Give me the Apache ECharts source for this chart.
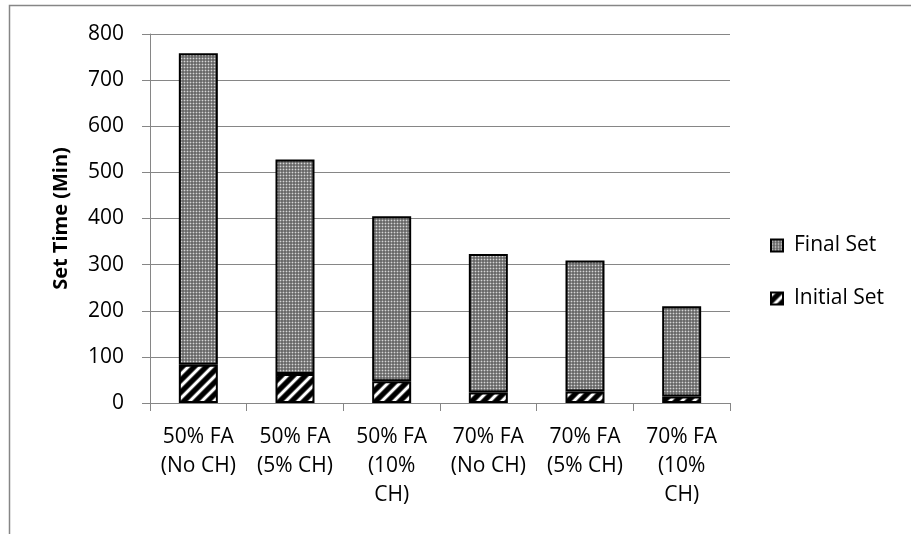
<!DOCTYPE html>
<html>
<head>
<meta charset="utf-8">
<script src="https://cdn.jsdelivr.net/npm/echarts@6/dist/echarts.min.js"></script>
<style>
  html, body { margin: 0; padding: 0; background: #fff; }
  #chart { width: 911px; height: 534px; }
</style>
</head>
<body>
<div id="chart"></div>
<script>
// Mix designations (category axis)
const categories = [
  '50% FA\n(No CH)',
  '50% FA\n(5% CH)',
  '50% FA\n(10%\nCH)',
  '70% FA\n(No CH)',
  '70% FA\n(5% CH)',
  '70% FA\n(10%\nCH)'
];
// Initial set time (min), bottom segment
const initialSet = [83, 63, 47, 23, 25, 14];
// Remaining time to final set (min), stacked above initial set
const finalSet = [675, 465, 358, 300, 284, 196];
// Value axis
const yMin = 0;
const yMax = 800;
const yStep = 100;

// Fine dotted grey fill for the final-set segments
function makeDotPattern() {
  const c = document.createElement('canvas');
  c.width = 3; c.height = 3;
  const g = c.getContext('2d');
  const shades = [
    ['#6a6a6a', '#8a8a8a', '#6a6a6a'],
    ['#8a8a8a', '#d6d6d6', '#8a8a8a'],
    ['#6a6a6a', '#8a8a8a', '#6a6a6a']
  ];
  for (let y = 0; y < 3; y++) {
    for (let x = 0; x < 3; x++) {
      g.fillStyle = shades[y][x];
      g.fillRect(x, y, 1, 1);
    }
  }
  return c;
}

// Wide black/white diagonal stripes for the initial-set segments
function makeStripePattern() {
  const n = 12;
  const c = document.createElement('canvas');
  c.width = n; c.height = n;
  const g = c.getContext('2d');
  const img = g.createImageData(n, n);
  for (let y = 0; y < n; y++) {
    for (let x = 0; x < n; x++) {
      const p = ((x + y) % n + n) % n;
      let d = Math.abs(p - 2);
      d = Math.min(d, n - d);
      const v = d <= 1 ? 255 : d <= 2 ? 150 : d <= 3 ? 40 : 0;
      const i = (y * n + x) * 4;
      img.data[i] = v; img.data[i + 1] = v; img.data[i + 2] = v; img.data[i + 3] = 255;
    }
  }
  g.putImageData(img, 0, 0);
  return c;
}

const dotFill = { image: makeDotPattern(), repeat: 'repeat' };
const stripeFill = { image: makeStripePattern(), repeat: 'repeat' };

const fontFamily = '"Open Sans", "Noto Sans", sans-serif';
const axisGrey = '#868686';
const fontSize = 21;

const chart = echarts.init(document.getElementById('chart'), null, { renderer: 'canvas' });
chart.setOption({
  backgroundColor: '#ffffff',
  animation: false,
  graphic: [{
    type: 'rect',
    left: 7, top: 3,
    shape: { x: 0.5, y: 0.5, width: 1200, height: 1200 },
    style: { fill: 'none', stroke: axisGrey, lineWidth: 1.5 },
    silent: true
  }],
  grid: { left: 150, right: 181, top: 34, bottom: 131, containLabel: false },
  legend: {
    data: ['Final Set', 'Initial Set'],
    orient: 'vertical',
    left: 765,
    top: 230,
    itemWidth: 12,
    itemHeight: 12,
    itemGap: 32,
    textStyle: { fontFamily: fontFamily, fontSize: fontSize, color: '#000', padding: [0, 0, 0, 6] },
    icon: 'rect'
  },
  xAxis: {
    type: 'category',
    data: categories,
    axisLine: { show: true, lineStyle: { color: axisGrey, width: 1 } },
    axisTick: { show: true, length: 8, alignWithLabel: false, lineStyle: { color: axisGrey } },
    axisLabel: {
      interval: 0,
      margin: 20,
      fontFamily: fontFamily,
      fontSize: fontSize,
      lineHeight: 29,
      color: '#000'
    },
    splitLine: { show: false }
  },
  yAxis: {
    type: 'value',
    min: yMin,
    max: yMax,
    interval: yStep,
    name: 'Set Time (Min)',
    nameLocation: 'middle',
    nameGap: 79,
    nameRotate: 90,
    nameTextStyle: { fontFamily: fontFamily, fontSize: 20, fontWeight: 'bold', color: '#000' },
    axisLine: { show: true, lineStyle: { color: axisGrey, width: 1 } },
    axisTick: { show: true, length: 8, lineStyle: { color: axisGrey } },
    axisLabel: { margin: 26, fontFamily: fontFamily, fontSize: fontSize, color: '#000' },
    splitLine: { show: true, lineStyle: { color: axisGrey, width: 1 } }
  },
  series: [
    {
      name: 'Initial Set',
      type: 'bar',
      stack: 'time',
      barWidth: 39,
      data: initialSet,
      itemStyle: { color: stripeFill, borderColor: '#000', borderWidth: 2 }
    },
    {
      name: 'Final Set',
      type: 'bar',
      stack: 'time',
      barWidth: 39,
      data: finalSet,
      itemStyle: { color: dotFill, borderColor: '#000', borderWidth: 2 }
    }
  ]
});
</script>
</body>
</html>
